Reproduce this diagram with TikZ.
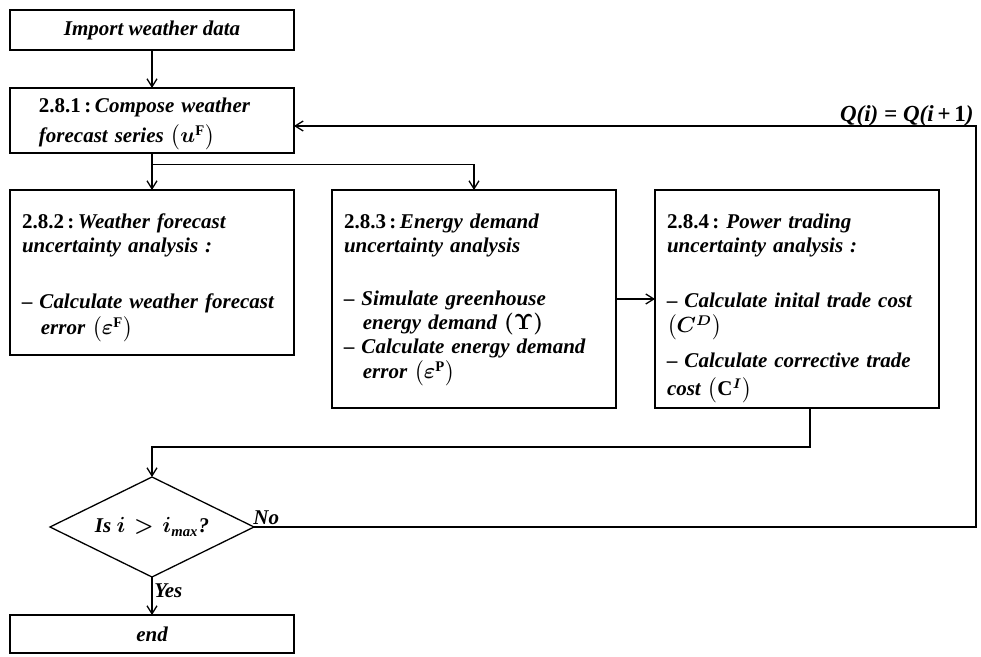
\documentclass[tikz,border=0pt]{standalone}
\usepackage{amsmath,amssymb}
\usepackage{fontspec}
\setmainfont{Liberation Serif}
\usepackage{tikz}
\usetikzlibrary{arrows.meta,positioning,shapes.geometric,calc}
\tikzset{
  arrow/.style={-{Straight Barb[length=4pt,width=5pt]},line width=0.65pt},
  stage/.style={draw,line width=0.65pt,minimum width=142pt,minimum height=20pt,
    inner sep=0pt,outer sep=0pt,align=center},
  task/.style={draw,line width=0.65pt,text width=130pt,inner xsep=6pt,inner ysep=6pt,
    outer sep=0pt,align=left,text height=13.5pt},
  test/.style={diamond,draw,line width=0.65pt,aspect=2,minimum width=102pt,
    minimum height=50pt,inner sep=0pt,outer sep=0pt},
  tag/.style={inner sep=1pt}
}
\newcommand{\secno}[1]{{\upshape #1\,:\,}}
\newcommand{\subline}{\hspace*{0.9em}}

\begin{document}
\begin{tikzpicture}[font=\fontsize{10.5}{12}\selectfont\bfseries\itshape\boldmath]
  \useasboundingbox (0,0) rectangle (490.5pt,-328.5pt);
  \node[stage,anchor=north west] (imp) at (5pt,-5pt) {Import weather data};
  \node[task,below=19pt of imp,inner xsep=14.5pt,inner ysep=4pt,text width=113pt,
    text height=8.5pt,text depth=16pt] (s1)
    {\secno{2.8.1}Compose weather\\[3pt] forecast series $\bigl(u^{\mathrm{F}}\bigr)$};
  \node[task,below=18.5pt of s1,text depth=57pt] (s2)
    {\secno{2.8.2}Weather forecast\\ uncertainty analysis :\\[16pt]
     -- Calculate weather forecast\\[1pt] \subline error $\bigl(\varepsilon^{\mathrm{F}}\bigr)$};
  \node[task,right=19pt of s2.north east,anchor=north west,text depth=83.5pt] (s3)
    {\secno{2.8.3}Energy demand\\ uncertainty analysis\\[14.5pt]
     -- Simulate greenhouse\\ \subline energy demand $(\Upsilon)$\\
     -- Calculate energy demand\\[0.5pt] \subline error $\bigl(\varepsilon^{\mathrm{P}}\bigr)$};
  \node[task,right=19.5pt of s3.north east,anchor=north west,text depth=83.5pt] (s4)
    {{\upshape 2.8.4\,:}\ Power trading\\ uncertainty analysis :\\[15.5pt]
     -- Calculate inital trade cost\\[0.5pt] $\bigl(C^{D}\bigr)$\\[5.5pt]
     -- Calculate corrective trade\\[2pt] cost $\bigl(\mathrm{C}^{I}\bigr)$};
  \node[test,below=61pt of s2] (chk) {Is $i$\ \,$>$\ \,$i_{\textit{max}}$?};
  \node[stage,below=19pt of chk,minimum height=19pt] (fin) {end};
  % connectors
  \draw[arrow] (imp) -- (s1);
  \draw[arrow] (s1) -- (s2);
  \coordinate (fork) at ($(s1.south)!0.32!(s2.north)$);
  \draw[arrow] (fork) -| (s3.north);
  \draw[arrow] (s3.east) -- (s3.east -| s4.west);
  \draw[arrow] ([xshift=6.5pt]s4.south) -- ++(0,-19.5pt) -| (chk.north);
  \coordinate (loop) at (488pt,-63pt);
  \draw[arrow] (chk.east) -- (chk.east -| loop) -- (loop) -- (loop -| s1.east);
  \draw[arrow] (chk) -- (fin);
  % labels
  \node[tag,anchor=base east,yshift=2pt,font=\fontsize{11.5}{12}\selectfont\bfseries\itshape] (qlab)
    at (loop) {Q(i) = Q(i\,+\,{\upshape 1})};
  \node[tag,anchor=south west,xshift=-1.5pt] (no) at (chk.east) {No};
  \node[tag,anchor=west] (yes) at ($(chk.south)!0.37!(fin.north)$) {Yes};
\end{tikzpicture}
\end{document}
